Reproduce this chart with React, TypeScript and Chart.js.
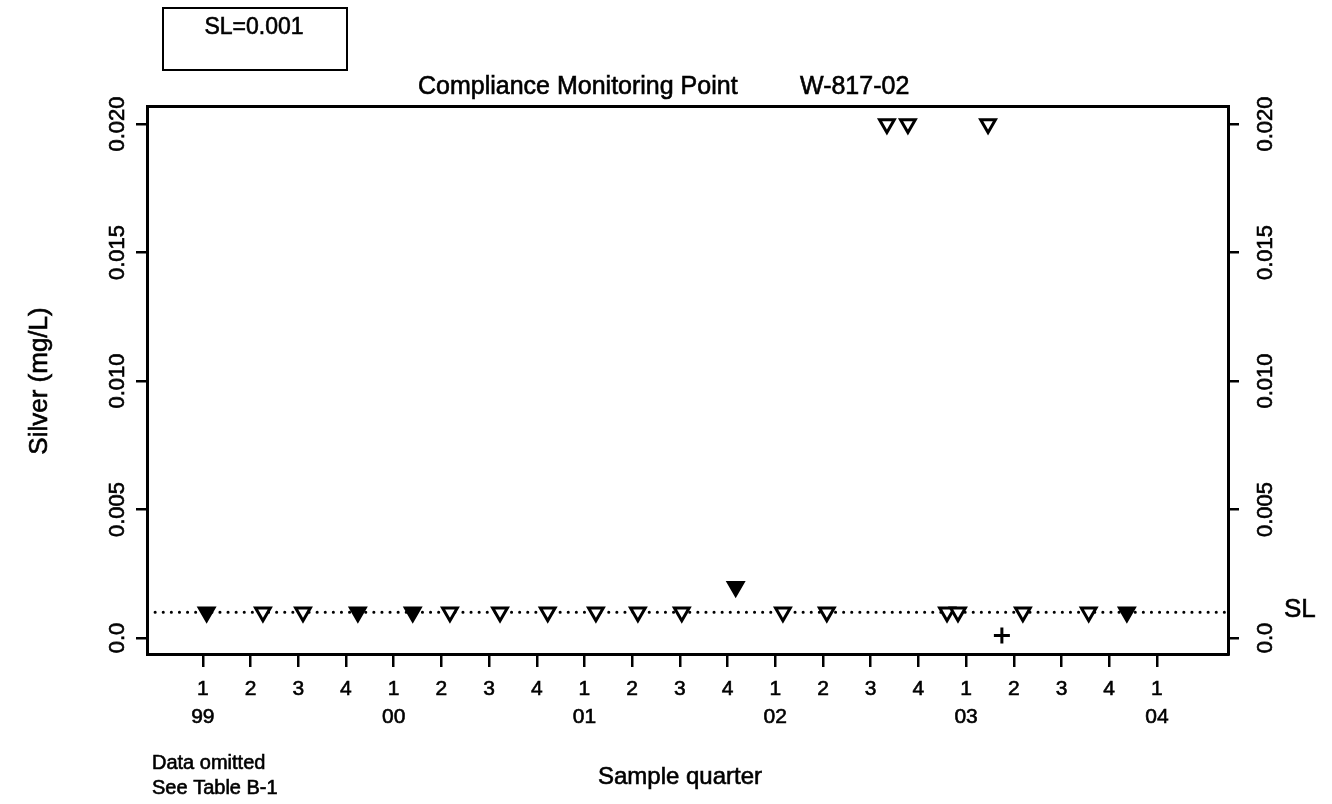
import React, { useEffect, useRef } from "react";
import { Chart, registerables } from "chart.js";

Chart.register(...registerables);

// ---- data ----
const quarterTicks = [0, 1, 2, 3, 4, 5, 6, 7, 8, 9, 10, 11, 12, 13, 14, 15, 16, 17, 18, 19, 20];
const quarterLabels = ["1", "2", "3", "4", "1", "2", "3", "4", "1", "2", "3", "4", "1", "2", "3", "4", "1", "2", "3", "4", "1"];
const yearLabels = ["99", "", "", "", "00", "", "", "", "01", "", "", "", "02", "", "", "", "03", "", "", "", "04"];
const yTicks = [0, 0.005, 0.01, 0.015, 0.02];
const yTickLabels = ["0.0", "0.005", "0.010", "0.015", "0.020"];

// non-detects (open triangles): x in quarters since 1999 Q1
const openX = [1.26, 2.1, 5.18, 6.23, 7.23, 8.24, 9.12, 10.04, 12.16, 13.08, 14.34, 14.78, 15.6, 15.83, 16.46, 17.19, 18.57];
const openY = [0.001, 0.001, 0.001, 0.001, 0.001, 0.001, 0.001, 0.001, 0.001, 0.001, 0.02, 0.02, 0.001, 0.001, 0.02, 0.001, 0.001];
// filled triangles
const filledX = [0.08, 3.25, 4.4, 11.17, 19.37];
const filledY = [0.001, 0.001, 0.001, 0.002, 0.001];
// detected value (+)
const plusX = [16.75];
const plusY = [0.0001];

const SL = 0.001;
const X_MIN = -1.17;
const X_MAX = 21.49;
const Y_MIN = -0.00062;
const Y_MAX = 0.0207;

const FONT = "'Liberation Sans', Arial, Helvetica, sans-serif";

function heavyText(ctx: CanvasRenderingContext2D, s: string, x: number, y: number) {
  ctx.fillText(s, x, y);
  ctx.strokeText(s, x, y);
}

const textPlugin = {
  id: "textPlugin",
  afterDraw(chart: any) {
    const ctx = chart.ctx as CanvasRenderingContext2D;
    const y = chart.scales.y;
    ctx.save();
    ctx.fillStyle = "#000";
    ctx.strokeStyle = "#000";

    // SL box
    ctx.lineWidth = 2;
    ctx.strokeRect(163, 8, 184, 62);
    ctx.lineWidth = 0.6;
    ctx.font = `23px ${FONT}`;
    ctx.textAlign = "center";
    ctx.textBaseline = "middle";
    heavyText(ctx, "SL=0.001", 254, 28);

    // title
    ctx.font = `25px ${FONT}`;
    ctx.textAlign = "left";
    ctx.textBaseline = "alphabetic";
    heavyText(ctx, "Compliance Monitoring Point", 418, 94);
    heavyText(ctx, "W-817-02", 800, 94);

    // y tick labels, left and right (rotated)
    ctx.font = `22px ${FONT}`;
    ctx.textAlign = "center";
    ctx.textBaseline = "middle";
    yTicks.forEach((v, i) => {
      const py = y.getPixelForValue(v);
      ctx.save();
      ctx.translate(118, py);
      ctx.rotate(-Math.PI / 2);
      heavyText(ctx, yTickLabels[i], 0, 0);
      ctx.restore();
      ctx.save();
      ctx.translate(1266, py);
      ctx.rotate(-Math.PI / 2);
      heavyText(ctx, yTickLabels[i], 0, 0);
      ctx.restore();
    });

    // SL label
    ctx.font = `26px ${FONT}`;
    ctx.textAlign = "left";
    heavyText(ctx, "SL", 1284, y.getPixelForValue(SL) - 3);

    // y title
    ctx.save();
    ctx.translate(40, 381);
    ctx.rotate(-Math.PI / 2);
    ctx.textAlign = "center";
    ctx.font = `26px ${FONT}`;
    heavyText(ctx, "Silver (mg/L)", 0, 0);
    ctx.restore();

    // x title
    ctx.font = `24px ${FONT}`;
    ctx.textAlign = "center";
    heavyText(ctx, "Sample quarter", 680, 777);

    // note
    ctx.font = `20px ${FONT}`;
    ctx.textAlign = "left";
    heavyText(ctx, "Data omitted", 152, 763);
    heavyText(ctx, "See Table B-1", 152, 788);

    ctx.restore();
  },
};

export default function App() {
  const ref = useRef<HTMLCanvasElement | null>(null);

  useEffect(() => {
    if (!ref.current) return;
    Chart.defaults.font.family = FONT;
    const toPts = (xs: number[], ys: number[]) => xs.map((x, i) => ({ x, y: ys[i] }));
    const yScaleBase = (w: number, pos: "left" | "right") => ({
      type: "linear" as const,
      position: pos,
      min: Y_MIN,
      max: Y_MAX,
      afterBuildTicks: (s: any) => {
        s.ticks = yTicks.map((v) => ({ value: v }));
      },
      afterFit: (s: any) => {
        s.width = w;
      },
      ticks: { display: false },
      grid: {
        display: true,
        drawOnChartArea: false,
        drawTicks: true,
        tickLength: 11,
        tickColor: "#000",
        tickWidth: 2.5,
        color: "#000",
        lineWidth: 2.5,
      },
      border: { display: true, color: "#000", width: 3 },
    });

    const chart = new Chart(ref.current, {
      type: "scatter",
      data: {
        datasets: [
          {
            label: "detected",
            data: toPts(plusX, plusY),
            pointStyle: "cross",
            pointRadius: 8,
            borderColor: "#000",
            borderWidth: 3,
            yAxisID: "y",
          },
          {
            label: "filled",
            data: toPts(filledX, filledY),
            pointStyle: "triangle",
            rotation: 180,
            pointRadius: 8.5,
            backgroundColor: "#000",
            borderColor: "#000",
            borderWidth: 3,
            yAxisID: "y",
          },
          {
            label: "non-detect",
            data: toPts(openX, openY),
            pointStyle: "triangle",
            rotation: 180,
            pointRadius: 8.5,
            backgroundColor: "#fff",
            borderColor: "#000",
            borderWidth: 3,
            yAxisID: "y",
          },
          {
            type: "line",
            label: "SL",
            data: [
              { x: X_MIN, y: SL },
              { x: X_MAX, y: SL },
            ],
            borderColor: "#000",
            borderWidth: 3,
            borderDash: [0.1, 8],
            borderCapStyle: "round",
            pointRadius: 0,
            yAxisID: "y",
          } as any,
        ],
      },
      options: {
        animation: false,
        responsive: false,
        layout: { padding: { top: 106, left: 0, right: 0, bottom: 0 } },
        plugins: {
          legend: { display: false },
          title: { display: false },
          tooltip: { enabled: false },
        },
        scales: {
          x: {
            type: "linear",
            position: "bottom",
            min: X_MIN,
            max: X_MAX,
            afterBuildTicks: (s: any) => {
              s.ticks = quarterTicks.map((v) => ({ value: v }));
            },
            afterFit: (s: any) => {
              s.height = 150;
            },
            ticks: {
              autoSkip: false,
              maxRotation: 0,
              minRotation: 0,
              padding: 8,
              color: "#000",
              textStrokeColor: "#000",
              textStrokeWidth: 0.6,
              font: { size: 21, lineHeight: 1.33 },
              callback: (_v: any, i: number) =>
                yearLabels[i] ? [quarterLabels[i], yearLabels[i]] : quarterLabels[i],
            },
            grid: {
              display: true,
              drawOnChartArea: false,
              drawTicks: true,
              tickLength: 13,
              tickColor: "#000",
              tickWidth: 2.5,
              color: "#000",
              lineWidth: 2.5,
            },
            border: { display: true, color: "#000", width: 3 },
          },
          xTop: {
            type: "linear",
            position: "top",
            min: X_MIN,
            max: X_MAX,
            afterFit: (s: any) => {
              s.height = 0;
            },
            ticks: { display: false },
            grid: { display: false },
            border: { display: true, color: "#000", width: 3 },
          },
          y: yScaleBase(147, "left") as any,
          y2: yScaleBase(104, "right") as any,
        },
      } as any,
      plugins: [textPlugin],
    });
    return () => chart.destroy();
  }, []);

  return (
    <div style={{ position: "absolute", left: 0, top: 0, width: 1332, height: 804, background: "#fff" }}>
      <canvas ref={ref} width={1332} height={804} style={{ display: "block" }} />
    </div>
  );
}
